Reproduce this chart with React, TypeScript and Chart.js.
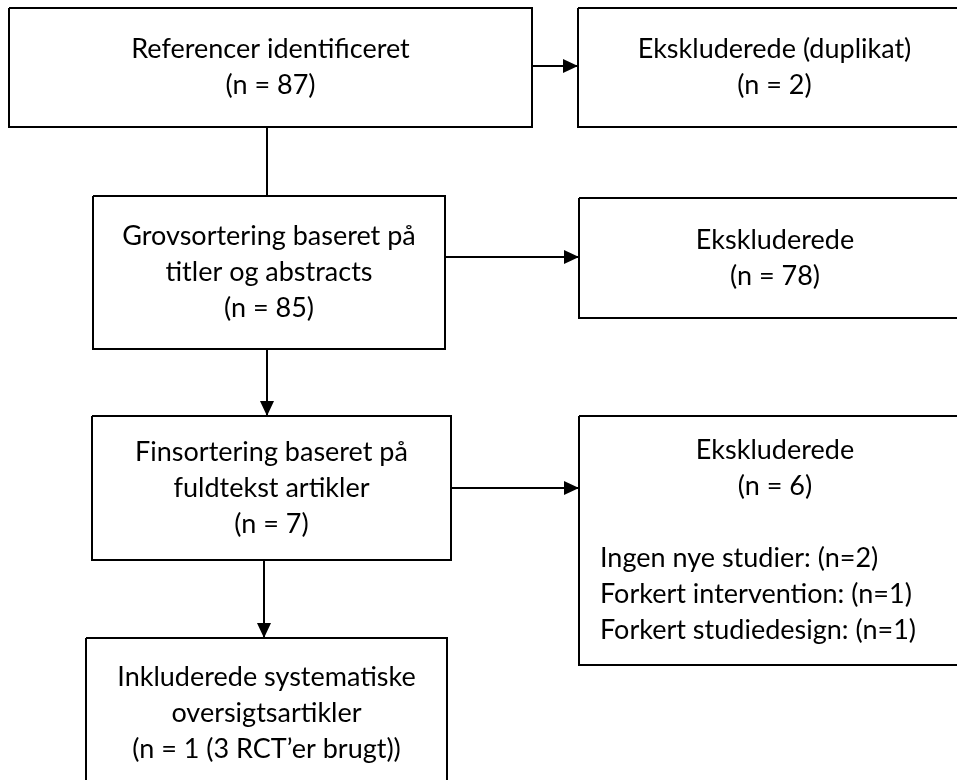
import React, { useEffect, useRef } from "react";
import { Chart, registerables } from "chart.js";

Chart.register(...registerables);

// Flowchart nodes (diagram coordinates: x 0–957, y 0–780, y downwards)
const nodeLines: string[][] = [
  ["Referencer identificeret", "(n = 87)"],
  ["Ekskluderede (duplikat)", "(n = 2)"],
  ["Grovsortering baseret på", "titler og abstracts", "(n = 85)"],
  ["Ekskluderede", "(n = 78)"],
  ["Finsortering baseret på", "fuldtekst artikler", "(n = 7)"],
  ["Ekskluderede", "(n = 6)", "", "Ingen nye studier: (n=2)", "Forkert intervention: (n=1)", "Forkert studiedesign: (n=1)"],
  ["Inkluderede systematiske", "oversigtsartikler", "(n = 1 (3 RCT’er brugt))"],
];
// which lines of each node are left-aligned (others centered)
const nodeLeftAligned: number[][] = [[], [], [], [], [], [3, 4, 5], []];
const nodeLeft = [9, 578, 93, 579, 92, 579, 86];
const nodeRight = [532, 971, 445, 971, 451, 971, 447];
const nodeTop = [8, 8, 196, 198, 416, 416, 638];
const nodeBottom = [127, 127, 349, 318, 560, 665, 788];

// Connectors: from (x0,y0) to (x1,y1), arrow at end?
const linkX0 = [532, 267, 445, 267, 451, 264];
const linkY0 = [66, 127, 257, 349, 488, 560];
const linkX1 = [578, 267, 579, 267, 579, 264];
const linkY1 = [66, 196, 257, 416, 488, 638];
const linkArrow = [true, false, true, true, true, true];

const FONT = "Lato, 'Noto Sans', sans-serif";
const FONT_SIZE = 27;
const LINE_HEIGHT = 36;
const LEFT_PAD = 21;
const ARROW_LEN = 15;
const ARROW_HALF = 7;

export default function App() {
  const ref = useRef<HTMLCanvasElement>(null);

  useEffect(() => {
    if (!ref.current) return;

    const boxDatasets = nodeLines.map((_, i) => ({
      label: "box" + i,
      data: [
        { x: nodeLeft[i], y: nodeTop[i] },
        { x: nodeRight[i], y: nodeTop[i] },
        { x: nodeRight[i], y: nodeBottom[i] },
        { x: nodeLeft[i], y: nodeBottom[i] },
        { x: nodeLeft[i], y: nodeTop[i] },
      ],
      showLine: true,
      borderColor: "#000",
      borderWidth: 2,
      pointRadius: 0,
      fill: false,
      tension: 0,
    }));

    const linkDatasets = linkX0.map((_, i) => ({
      label: "link" + i,
      data: [
        { x: linkX0[i], y: linkY0[i] },
        { x: linkX1[i], y: linkY1[i] },
      ],
      showLine: true,
      borderColor: "#000",
      borderWidth: 2,
      pointRadius: 0,
      fill: false,
    }));

    const flowPlugin = {
      id: "flowText",
      afterDatasetsDraw(chart: any) {
        const ctx = chart.ctx as CanvasRenderingContext2D;
        const xs = chart.scales.x;
        const ys = chart.scales.y;
        ctx.save();
        // arrowheads
        ctx.fillStyle = "#000";
        linkX0.forEach((_, i) => {
          if (!linkArrow[i]) return;
          const ax = xs.getPixelForValue(linkX0[i]);
          const ay = ys.getPixelForValue(linkY0[i]);
          const bx = xs.getPixelForValue(linkX1[i]);
          const by = ys.getPixelForValue(linkY1[i]);
          const ang = Math.atan2(by - ay, bx - ax);
          ctx.save();
          ctx.translate(bx, by);
          ctx.rotate(ang);
          ctx.beginPath();
          ctx.moveTo(0, 0);
          ctx.lineTo(-ARROW_LEN, -ARROW_HALF);
          ctx.lineTo(-ARROW_LEN, ARROW_HALF);
          ctx.closePath();
          ctx.fill();
          ctx.restore();
        });
        // texts
        ctx.font = `${FONT_SIZE}px ${FONT}`;
        ctx.fillStyle = "#000";
        ctx.textBaseline = "middle";
        nodeLines.forEach((lines, i) => {
          const l = xs.getPixelForValue(nodeLeft[i]);
          const r = xs.getPixelForValue(nodeRight[i]);
          const t = ys.getPixelForValue(nodeTop[i]);
          const b = ys.getPixelForValue(nodeBottom[i]);
          const cx = (l + r) / 2;
          const cy = (t + b) / 2;
          const n = lines.length;
          lines.forEach((txt, j) => {
            const y = cy + (j - (n - 1) / 2) * LINE_HEIGHT;
            if (nodeLeftAligned[i].includes(j)) {
              ctx.textAlign = "left";
              ctx.fillText(txt, l + LEFT_PAD, y);
            } else {
              ctx.textAlign = "center";
              ctx.fillText(txt, cx, y);
            }
          });
        });
        ctx.restore();
      },
    };

    const chart = new Chart(ref.current, {
      type: "scatter",
      data: { datasets: [...boxDatasets, ...linkDatasets] as any },
      options: {
        animation: false,
        responsive: false,
        maintainAspectRatio: false,
        layout: { padding: 0 },
        plugins: { legend: { display: false }, tooltip: { enabled: false } },
        events: [],
        scales: {
          x: { type: "linear", min: 0, max: 957, display: false },
          y: { type: "linear", min: 0, max: 780, reverse: true, display: false },
        },
      },
      plugins: [flowPlugin],
    });
    return () => chart.destroy();
  }, []);

  return (
    <div style={{ position: "fixed", left: 0, top: 0, width: 957, height: 780, background: "#fff" }}>
      <canvas ref={ref} width={957} height={780} style={{ display: "block" }} />
    </div>
  );
}
